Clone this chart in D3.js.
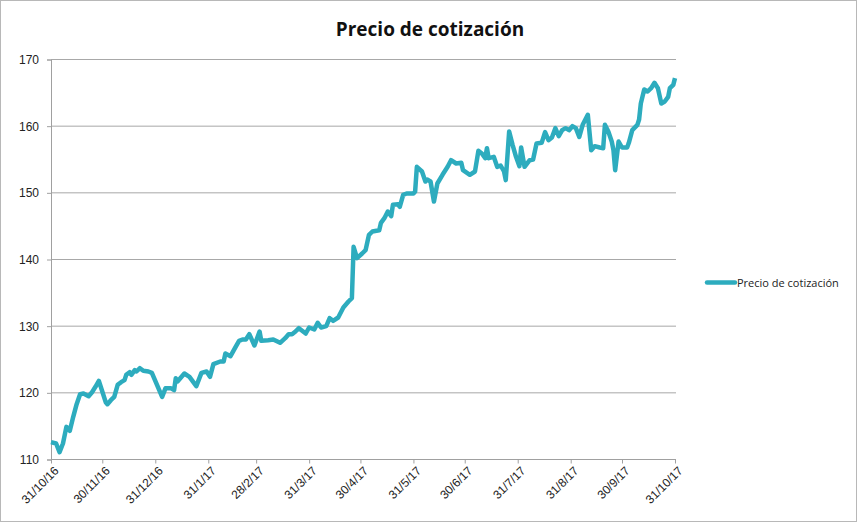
<!DOCTYPE html>
<html lang="es">
<head>
<meta charset="UTF-8">
<title>Precio de cotización</title>
<style>
body { margin: 0; background: #fff; }
svg { display: block; font-family: "Open Sans", "DejaVu Sans", sans-serif; }
.tick text { fill: #222; }
</style>
</head>
<body>
<svg width="860" height="523"></svg>
<script src="https://d3js.org/d3.v7.min.js"></script>
<script>
// fechas y precios
var fechas = [
  "2016-10-31","2016-11-03","2016-11-05","2016-11-07","2016-11-09","2016-11-11","2016-11-13","2016-11-15",
  "2016-11-17","2016-11-19","2016-11-22","2016-11-24","2016-11-26","2016-11-28","2016-11-30","2016-12-02",
  "2016-12-03","2016-12-05","2016-12-07","2016-12-09","2016-12-11","2016-12-13","2016-12-14","2016-12-16",
  "2016-12-17","2016-12-19","2016-12-20","2016-12-22","2016-12-24","2016-12-27","2016-12-29","2016-12-30",
  "2017-01-01","2017-01-04","2017-01-06","2017-01-09","2017-01-11","2017-01-12","2017-01-13","2017-01-17",
  "2017-01-20","2017-01-24","2017-01-27","2017-01-30","2017-02-01","2017-02-03","2017-02-07","2017-02-09",
  "2017-02-10","2017-02-13","2017-02-16","2017-02-18","2017-02-20","2017-02-22","2017-02-24","2017-02-27",
  "2017-03-02","2017-03-03","2017-03-07","2017-03-10","2017-03-14","2017-03-17","2017-03-19","2017-03-21",
  "2017-03-23","2017-03-25","2017-03-29","2017-03-31","2017-04-03","2017-04-05","2017-04-07","2017-04-10",
  "2017-04-12","2017-04-14","2017-04-17","2017-04-20","2017-04-23","2017-04-25","2017-04-26","2017-04-28",
  "2017-05-01","2017-05-03","2017-05-05","2017-05-07","2017-05-11","2017-05-12","2017-05-14","2017-05-16",
  "2017-05-18","2017-05-19","2017-05-22","2017-05-23","2017-05-25","2017-05-27","2017-05-31","2017-06-01",
  "2017-06-02","2017-06-05","2017-06-07","2017-06-08","2017-06-10","2017-06-12","2017-06-14","2017-06-17",
  "2017-06-20","2017-06-22","2017-06-25","2017-06-28","2017-06-29","2017-07-03","2017-07-06","2017-07-08",
  "2017-07-10","2017-07-12","2017-07-13","2017-07-14","2017-07-17","2017-07-19","2017-07-21","2017-07-23",
  "2017-07-24","2017-07-26","2017-07-28","2017-07-30","2017-08-01","2017-08-02","2017-08-04","2017-08-07",
  "2017-08-09","2017-08-11","2017-08-14","2017-08-16","2017-08-18","2017-08-20","2017-08-22","2017-08-24",
  "2017-08-26","2017-08-28","2017-08-30","2017-09-01","2017-09-03","2017-09-05","2017-09-07","2017-09-10",
  "2017-09-12","2017-09-14","2017-09-17","2017-09-19","2017-09-20","2017-09-22","2017-09-24","2017-09-25",
  "2017-09-26","2017-09-28","2017-09-30","2017-10-03","2017-10-04","2017-10-06","2017-10-09","2017-10-10",
  "2017-10-11","2017-10-13","2017-10-15","2017-10-17","2017-10-19","2017-10-21","2017-10-23","2017-10-25",
  "2017-10-27","2017-10-28","2017-10-30","2017-10-31"
];
var precios = [
  112.6,112.4,111.1,112.4,114.9,114.3,116.4,118.3,
  119.8,119.9,119.5,120.1,120.9,121.8,120.2,118.6,
  118.3,118.9,119.4,121.2,121.6,121.9,122.7,123.1,
  122.7,123.4,123.2,123.7,123.3,123.2,123.0,122.4,
  121.2,119.4,120.7,120.7,120.4,122.2,121.7,122.9,
  122.4,121.0,123.0,123.2,122.4,124.3,124.7,124.7,
  125.9,125.5,126.9,127.8,128.0,128.0,128.8,127.1,
  129.2,127.8,127.9,128.0,127.5,128.2,128.8,128.8,
  129.2,129.7,128.9,129.8,129.5,130.5,129.8,130.0,
  131.2,130.8,131.3,132.8,133.7,134.2,141.9,140.2,
  140.9,141.4,143.7,144.2,144.4,145.5,146.2,147.2,
  146.5,148.2,148.3,147.9,149.7,149.9,149.9,150.2,
  153.9,153.2,151.7,152.0,151.7,148.7,151.4,152.7,
  153.9,154.9,154.4,154.5,153.4,152.7,153.2,156.3,
  155.9,155.2,156.7,155.2,155.4,153.9,154.1,153.2,
  151.9,159.2,157.2,155.4,154.0,156.8,153.9,154.9,
  155.0,157.4,157.5,159.1,157.9,158.3,159.7,158.5,
  159.4,159.7,159.4,160.0,159.7,158.4,160.2,161.7,
  156.4,157.0,156.8,156.7,160.2,159.2,157.7,156.4,
  153.4,157.7,156.8,156.8,157.5,159.4,160.2,161.0,
  163.4,165.5,165.2,165.7,166.5,165.7,163.4,163.7,
  164.4,165.7,166.2,167.2
];
var ticksY = [110, 120, 130, 140, 150, 160, 170];
var ticksX = ["2016-10-31","2016-11-30","2016-12-31","2017-01-31","2017-02-28","2017-03-31",
  "2017-04-30","2017-05-31","2017-06-30","2017-07-31","2017-08-31","2017-09-30","2017-10-31"];
var serie = "Precio de cotización";

var parse = d3.timeParse("%Y-%m-%d");
var fmt = d3.timeFormat("%-d/%-m/%y");
var datos = fechas.map(function(f, i) { return { fecha: parse(f), precio: precios[i] }; });

var svg = d3.select("svg");

// marco exterior
svg.append("rect")
  .attr("x", 0.5).attr("y", 0.5)
  .attr("width", 856).attr("height", 521)
  .attr("fill", "none").attr("stroke", "#b8b8b8");

var x = d3.scaleTime()
  .domain([parse("2016-10-31"), parse("2017-10-31")])
  .range([51, 675]);
var y = d3.scaleLinear().domain([110, 170]).range([459.5, 59.5]);

// líneas de cuadrícula
svg.append("g")
  .selectAll("line")
  .data(ticksY.slice(1))
  .join("line")
  .attr("x1", 51).attr("x2", 676)
  .attr("y1", function(d) { return y(d); })
  .attr("y2", function(d) { return y(d); })
  .attr("stroke", "#a8a8a8").attr("stroke-width", 1);

var ejeY = svg.append("g")
  .attr("transform", "translate(51,0)")
  .call(d3.axisLeft(y).tickValues(ticksY).tickSize(4).tickPadding(8).tickFormat(d3.format("d")));
ejeY.selectAll("text").style("font-size", "12px");

var ejeX = svg.append("g")
  .attr("transform", "translate(0,459.5)")
  .call(d3.axisBottom(x).tickValues(ticksX.map(parse)).tickSize(4).tickFormat(fmt));
ejeX.select(".domain").attr("d", "M51,0H676");
ejeX.selectAll("text")
  .style("font-size", "12px")
  .attr("text-anchor", "end")
  .attr("dy", null).attr("y", 0)
  .attr("transform", "translate(8,12) rotate(-45)");

svg.selectAll(".domain, .tick line").attr("stroke", "#a0a0a0");

// serie
var linea = d3.line()
  .x(function(d) { return x(d.fecha); })
  .y(function(d) { return y(d.precio); });

svg.append("path")
  .datum(datos)
  .attr("d", linea)
  .attr("fill", "none")
  .attr("stroke", "#2dacbe")
  .attr("stroke-width", 4.5)
  .attr("stroke-linejoin", "round");

// título
svg.append("text")
  .attr("x", 430).attr("y", 36)
  .attr("text-anchor", "middle")
  .style("font-size", "19px").style("font-weight", "bold")
  .attr("fill", "#111")
  .text(serie);

// leyenda
svg.append("line")
  .attr("x1", 707).attr("x2", 735)
  .attr("y1", 282.5).attr("y2", 282.5)
  .attr("stroke", "#2dacbe").attr("stroke-width", 4.5)
  .attr("stroke-linecap", "round");
svg.append("text")
  .attr("x", 737).attr("y", 287)
  .style("font-size", "11px")
  .attr("fill", "#222")
  .text(serie);
</script>
</body>
</html>
